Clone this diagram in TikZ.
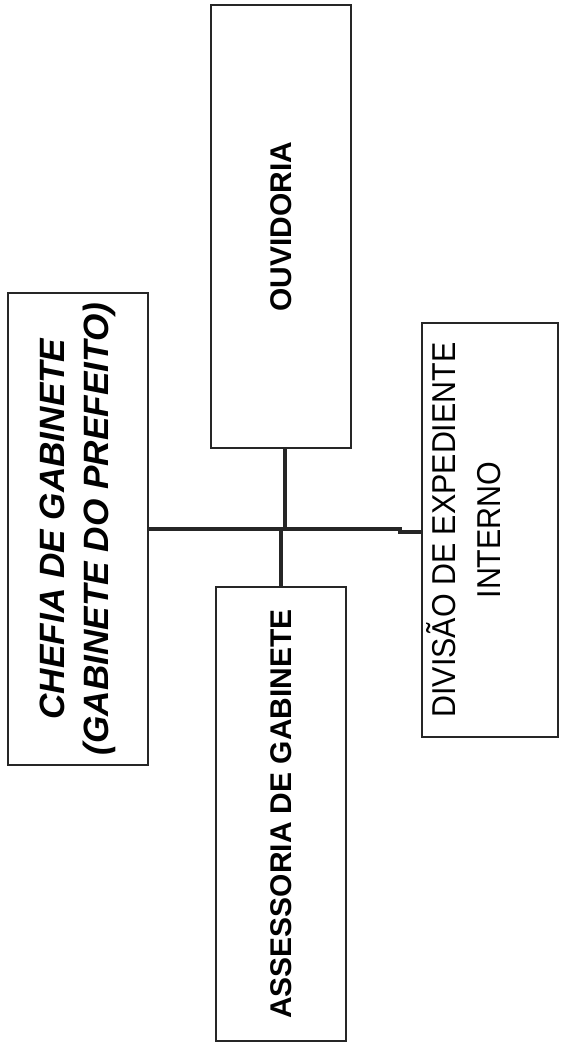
\documentclass[tikz,border=0pt]{standalone}
\usepackage{fontspec}
\setmainfont{Liberation Sans}
\newfontfamily\narrowfont[FakeStretch=0.92]{Liberation Sans}
\usetikzlibrary{positioning}

\begin{document}
\begin{tikzpicture}[x=0.025cm, y=-0.025cm,
  box/.style={draw=black!85, line width=1.3pt, rotate=90, inner sep=0pt, align=center},
  link/.style={draw=black!85, line width=3.2pt}]

\useasboundingbox (0,0) rectangle (562,1048);

% boxes (rotated, text reads bottom to top)
\node[box, minimum width=11.8cm, minimum height=3.5cm,
  font=\bfseries\itshape\fontsize{25pt}{31pt}\selectfont] (chefia) at (78,529)
  {CHEFIA DE GABINETE\\(GABINETE DO PREFEITO)};

\node[box, minimum width=11.075cm, minimum height=3.5cm,
  font=\bfseries\fontsize{21.3pt}{26pt}\selectfont] (ouvidoria) at (281,226.5)
  {OUVIDORIA};

\node[box, minimum width=11.35cm, minimum height=3.25cm,
  font=\bfseries\fontsize{21.3pt}{26pt}\selectfont] (assessoria) at (281,814)
  {ASSESSORIA DE GABINETE};

\node[box, minimum width=10.35cm, minimum height=3.4cm] (divisao) at (490,530) {};
\node[rotate=90, inner sep=0pt, align=center,
  font=\narrowfont\fontsize{23.5pt}{32pt}\selectfont] (divisaotxt)
  at ([xshift=-0.65cm]divisao.center) {DIVISÃO DE EXPEDIENTE\\INTERNO};

% connectors
\coordinate (kink) at (400,529);
\draw[link] (chefia.south) -- (kink) -- ++(0,3) -| (divisao.north);
\draw[link] ([xshift=0.1cm]ouvidoria.west) -- ([xshift=0.1cm]ouvidoria.west |- chefia.south);
\draw[link] (assessoria.east) -- (assessoria.east |- chefia.south);

\end{tikzpicture}
\end{document}
